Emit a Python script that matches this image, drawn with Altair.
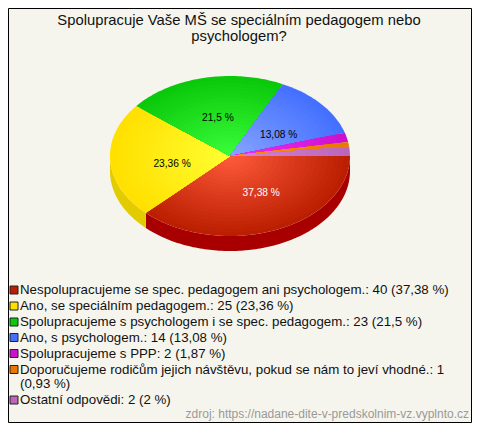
import math
import altair as alt
import numpy as np
import pandas as pd

title_lines = ["Spolupracuje Vaše MŠ se speciálním pedagogem nebo", "psychologem?"]
counts = [40, 25, 23, 14, 2, 1, 2]
pie_labels = ["37,38 %", "23,36 %", "21,5 %", "13,08 %", "", "", ""]
label_colors = ["#ffffff", "#000000", "#000000", "#000000", "#000000", "#000000", "#000000"]
legend_lines = [
    "Nespolupracujeme se spec. pedagogem ani psychologem.: 40 (37,38 %)",
    "Ano, se speciálním pedagogem.: 25 (23,36 %)",
    "Spolupracujeme s psychologem i se spec. pedagogem.: 23 (21,5 %)",
    "Ano, s psychologem.: 14 (13,08 %)",
    "Spolupracujeme s PPP: 2 (1,87 %)",
    "Doporučujeme rodičům jejich návštěvu, pokud se nám to jeví vhodné.: 1",
    "(0,93 %)",
    "Ostatní odpovědi: 2 (2 %)",
]
legend_slice = [0, 1, 2, 3, 4, 5, None, 6]
legend_rows_y = [290, 306, 322, 337.5, 353.5, 369.5, 384, 400]
source_text = "zdroj: https://nadane-dite-v-predskolnim-vz.vyplnto.cz"
centre_colors = ["#ff5c3c", "#ffff33", "#3cff3c", "#88a6ff", "#f030ff", "#ff9410", "#d486d8"]
rim_colors = ["#bb1e00", "#ffe000", "#0ac80a", "#4470ff", "#cc10cc", "#e87800", "#bb66bb"]
wall_colors = ["#a80000", "#e2cc00"]

BG = "#f5f5ee"
PAD_TOP = 40
W, H = 464, 415
CX, CY, RX, RY, DEPTH = 230, 156, 120, 80, 15
RINGS = 22
x_scale = alt.Scale(domain=[8, 8 + W], range=[0, W], nice=False, zero=False)
y_scale = alt.Scale(domain=[8 + PAD_TOP, 8 + H], range=[0, H - PAD_TOP], nice=False, zero=False)


def mix(a, b, t):
    pa = [int(a[i:i + 2], 16) for i in (1, 3, 5)]
    pb = [int(b[i:i + 2], 16) for i in (1, 3, 5)]
    return "#%02x%02x%02x" % tuple(round(p + (q - p) * t) for p, q in zip(pa, pb))


total = sum(counts)
edges = np.cumsum([0] + counts) / total * 2 * math.pi
rows = []
gid = 0


def add_polygon(points, color):
    global gid
    for k, (px, py) in enumerate(points):
        rows.append({"x": round(px, 2), "y": round(py, 2), "k": k, "g": gid, "c": color})
    gid += 1


def arc_angles(a0, a1):
    return np.linspace(a0, a1, max(3, int((a1 - a0) / 0.02)))


# side wall: visible part of the two first slices
for i, col in enumerate(wall_colors):
    a0, a1 = edges[i], min(edges[i + 1], math.pi)
    ang = arc_angles(a0, a1)
    upper = [(CX + RX * math.cos(t), CY + RY * math.sin(t)) for t in ang]
    lower = [(px, py + DEPTH) for px, py in reversed(upper)]
    add_polygon(upper + lower, col)

# top face: each slice as nested wedges, giving a radial shade
for i in range(len(counts)):
    ang = arc_angles(edges[i], edges[i + 1])
    for n in range(RINGS):
        f = 1 - n / RINGS
        color = mix(centre_colors[i], rim_colors[i], f)
        pts = [(CX, CY)] + [(CX + f * RX * math.cos(t), CY + f * RY * math.sin(t)) for t in ang]
        add_polygon(pts, color)

pie_df = pd.DataFrame(rows)
pie = alt.Chart(pie_df).mark_line(filled=True, strokeWidth=0, interpolate="linear").encode(
    x=alt.X("x:Q", scale=x_scale, axis=None),
    y=alt.Y("y:Q", scale=y_scale, axis=None),
    detail="g:N",
    order="k:Q",
    color=alt.Color("c:N", scale=None, legend=None),
)

# slice labels: mid-angle of the slice at half radius, then nudged
nudges = [(8, 0), (2, 6), (1, 1), (3, 5), (0, 0), (0, 0), (0, 0)]
lab = []
for i, t in enumerate(pie_labels):
    if t:
        m = (edges[i] + edges[i + 1]) / 2
        lab.append({"x": CX + 0.5 * RX * math.cos(m) + nudges[i][0],
                    "y": CY + 0.5 * RY * math.sin(m) + nudges[i][1],
                    "t": t, "c": label_colors[i]})
labels = alt.Chart(pd.DataFrame(lab)).mark_text(
    font="Liberation Sans", fontSize=10.2, align="center", baseline="middle"
).encode(
    x=alt.X("x:Q", scale=x_scale, axis=None),
    y=alt.Y("y:Q", scale=y_scale, axis=None),
    text="t:N",
    color=alt.Color("c:N", scale=None, legend=None),
)

legend_df = pd.DataFrame({"x": [20.0] * len(legend_lines), "y": legend_rows_y, "t": legend_lines})
legend_text = alt.Chart(legend_df).mark_text(
    font="Liberation Sans", fontSize=13.3, align="left", baseline="middle", color="#111111"
).encode(
    x=alt.X("x:Q", scale=x_scale, axis=None),
    y=alt.Y("y:Q", scale=y_scale, axis=None),
    text="t:N",
)

sw = [{"x": 14, "y": y, "c": rim_colors[s]} for y, s in zip(legend_rows_y, legend_slice) if s is not None]
swatches = alt.Chart(pd.DataFrame(sw)).mark_square(size=64, opacity=1, stroke="#222222", strokeWidth=1, filled=True).encode(
    x=alt.X("x:Q", scale=x_scale, axis=None),
    y=alt.Y("y:Q", scale=y_scale, axis=None),
    fill=alt.Color("c:N", scale=None, legend=None),
)

source = alt.Chart(pd.DataFrame({"x": [469], "y": [414], "t": [source_text]})).mark_text(
    font="Liberation Sans", fontSize=12, align="right", baseline="middle", color="#999999"
).encode(
    x=alt.X("x:Q", scale=x_scale, axis=None),
    y=alt.Y("y:Q", scale=y_scale, axis=None),
    text="t:N",
)

frame = alt.Chart(pd.DataFrame({"a": [0]})).mark_rect(
    fill="transparent", stroke="#000000", strokeWidth=1
).encode(
    x=alt.value(0.5), x2=alt.value(W - 0.5),
    y=alt.value(-PAD_TOP + 0.5), y2=alt.value(H - PAD_TOP - 0.5),
)

chart = alt.layer(frame, pie, labels, swatches, legend_text, source).properties(
    width=W,
    height=H - PAD_TOP,
    background=BG,
    padding={"left": 0, "right": 0, "top": PAD_TOP, "bottom": 0},
    autosize=alt.AutoSizeParams(type="none"),
    title=alt.TitleParams(
        text=title_lines, font="Liberation Sans", fontSize=14.8, fontWeight="normal",
        color="#111111", anchor="middle", frame="group", dx=-1, offset=-36, lineHeight=16,
    ),
).configure_view(stroke=None)

chart.save("out.html", embed_options={"renderer": "svg", "actions": False})
